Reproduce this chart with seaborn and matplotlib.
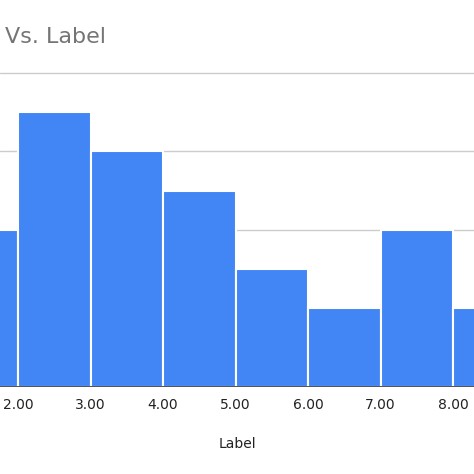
import matplotlib
matplotlib.use("Agg")
import matplotlib.pyplot as plt
import seaborn as sns
import numpy as np

bin_edges = [1, 2, 3, 4, 5, 6, 7, 8, 9]
counts = [4, 7, 6, 5, 3, 2, 4, 2]
tick_values = [2, 3, 4, 5, 6, 7, 8]
tick_labels = ["2.00", "3.00", "4.00", "5.00", "6.00", "7.00", "8.00"]

sns.set_style("white")
fig = plt.figure(figsize=(4.74, 4.74), dpi=100)
ax = fig.add_axes([0, 87/474, 1, 387/474])
centers = [(a + b) / 2 for a, b in zip(bin_edges[:-1], bin_edges[1:])]
sns.histplot(x=centers, weights=counts, bins=bin_edges, ax=ax, color="#4285F4",
             alpha=1, edgecolor="white", linewidth=1.5, zorder=3)
ax.set_xlim(1.75, 8.29)
ax.set_ylim(0, 9.85)
for y in [2, 4, 6, 8]:
    ax.axhline(y, color="#cccccc", lw=1, zorder=1)
ax.axhline(0, color="#333333", lw=1.2, zorder=4)
for s in ax.spines.values():
    s.set_visible(False)
ax.set_yticks([])
ax.set_xticks(tick_values)
ax.set_xticklabels(tick_labels, fontsize=10, color="#222222")
ax.tick_params(axis="x", length=0, pad=8)
ax.set_ylabel("")
ax.set_xlabel("Label", fontsize=10, color="#222222", labelpad=18)
fig.text(5/474, 1 - 37/474, "Vs. Label", fontsize=16, color="#757575", va="center", ha="left")
fig.savefig("out.png", dpi=100)
